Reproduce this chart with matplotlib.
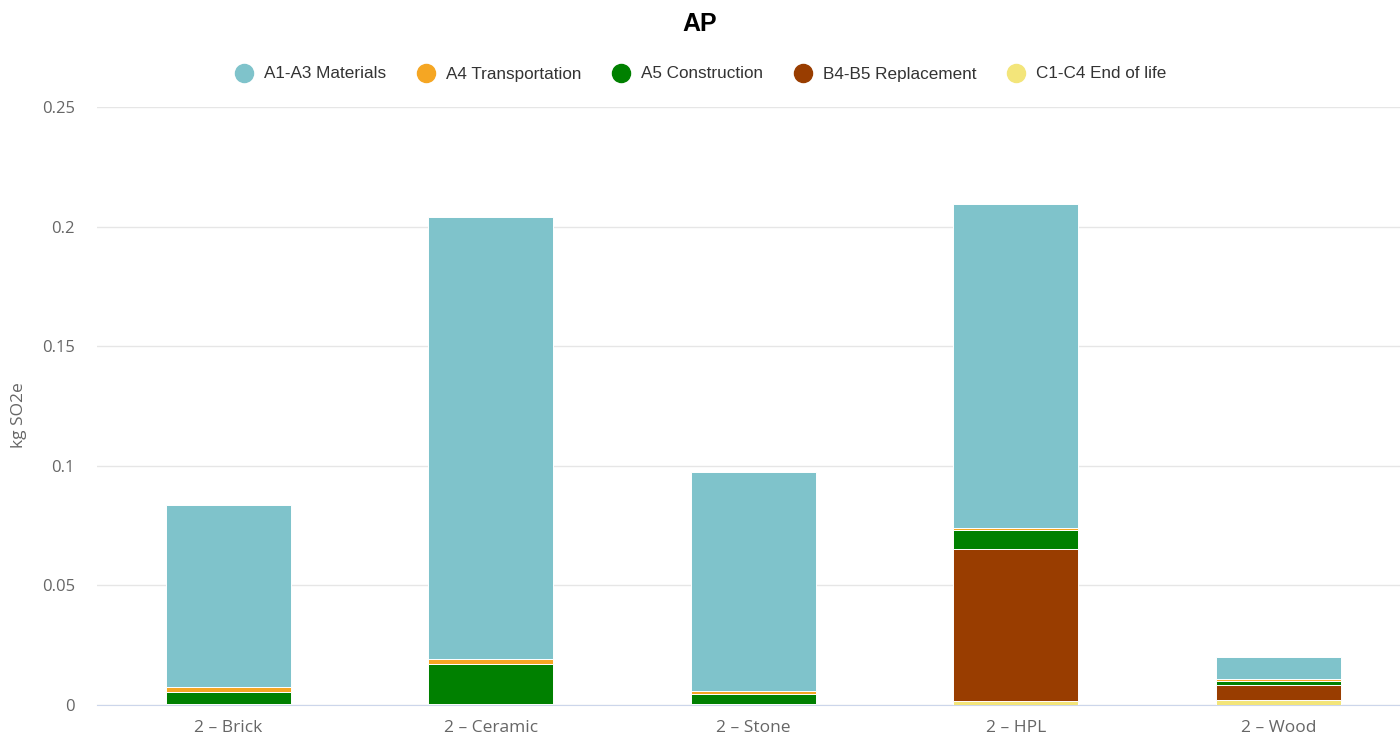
import matplotlib
matplotlib.use("Agg")
import matplotlib.pyplot as plt
from matplotlib.lines import Line2D
import numpy as np

categories = ["2 – Brick", "2 – Ceramic", "2 – Stone", "2 – HPL", "2 – Wood"]
series_names = ["A1-A3 Materials", "A4 Transportation", "A5 Construction",
                "B4-B5 Replacement", "C1-C4 End of life"]
colors = ["#7fc3cb", "#f5a623", "#008000", "#993d00", "#f3e57a"]

materials = [0.0761, 0.1848, 0.0916, 0.1353, 0.0089]
transport = [0.0022, 0.0020, 0.0012, 0.0010, 0.0008]
construction = [0.0050, 0.0168, 0.0042, 0.0080, 0.0018]
replacement = [0.0, 0.0, 0.0, 0.0635, 0.0062]
end_of_life = [0.0003, 0.0003, 0.0003, 0.0017, 0.0022]

values = [materials, transport, construction, replacement, end_of_life]

fig = plt.figure(figsize=(14, 7.34), dpi=100)
ax = fig.add_axes([97 / 1400, 1 - 705 / 734, 1312.5 / 1400, 598 / 734])

x = np.arange(len(categories))
bottom = np.zeros(len(categories))
# stack bottom-up in reverse series order
for i in reversed(range(len(series_names))):
    v = np.array(values[i])
    ax.bar(x, v, 0.476, bottom=bottom, color=colors[i], edgecolor="white",
           linewidth=0.7, zorder=3)
    bottom += v

ax.set_xlim(-0.5, len(categories) - 0.5)
ax.set_ylim(0, 0.25)
ax.set_yticks([0, 0.05, 0.1, 0.15, 0.2, 0.25])
ax.set_yticklabels(["0", "0.05", "0.1", "0.15", "0.2", "0.25"])
ax.set_xticks(x)
ax.set_xticklabels(categories)
ax.yaxis.grid(True, color="#e6e6e6", linewidth=1, zorder=0)
for s in ["top", "right", "left"]:
    ax.spines[s].set_visible(False)
ax.spines["bottom"].set_color("#ccd6eb")
ax.tick_params(axis="y", length=0, pad=16, labelsize=12, labelcolor="#666666")
ax.tick_params(axis="x", length=0, pad=11, labelsize=12.5, labelcolor="#666666")
for lab in ax.get_xticklabels() + ax.get_yticklabels():
    lab.set_fontfamily("Open Sans")
ax.set_ylabel("kg SO2e", fontsize=12.5, color="#666666", family="Open Sans")
ax.yaxis.set_label_coords(-0.053, 0.485)

fig.text(0.5, 1 - 24 / 734, "AP", ha="center", va="center", fontsize=18,
         fontweight="bold", family=["Liberation Sans", "DejaVu Sans"])

handles = [Line2D([], [], marker="o", linestyle="none", markersize=13,
                  markerfacecolor=c, markeredgecolor=c) for c in colors]
fig.legend(handles, series_names, loc="center", bbox_to_anchor=(0.5, 1 - 74 / 734),
           ncol=5, frameon=False, prop={"family": "Liberation Sans", "size": 12.3},
           labelcolor="#333333", handletextpad=0.55, columnspacing=1.75,
           handlelength=1.2)

fig.savefig("out.png", dpi=100)
